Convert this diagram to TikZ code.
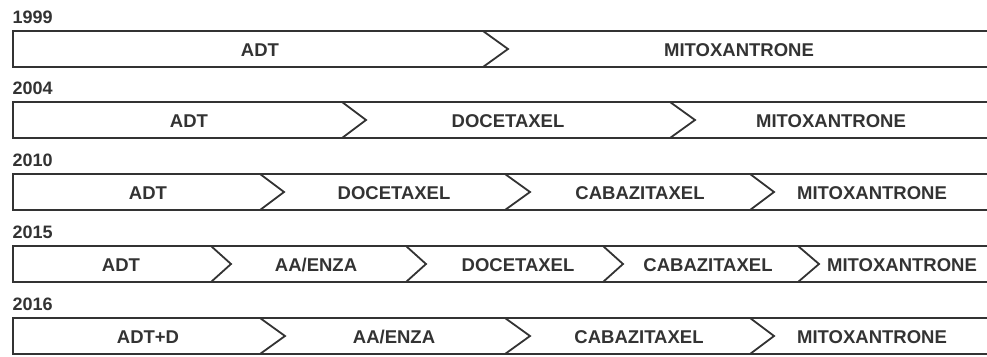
\documentclass[tikz,border=0pt]{standalone}
\usepackage{fontspec}
\setmainfont{Liberation Sans}
\definecolor{ink}{HTML}{333333}
\begin{document}
\begin{tikzpicture}[x=1pt,y=-1pt,
  band/.style={draw=ink,line width=1.8pt,line join=miter},
  chev/.style={draw=ink,line width=1.8pt,line join=miter},
  lbl/.style={text=ink,font=\fontsize{18.5}{20}\selectfont\bfseries,inner sep=0pt,anchor=center},
  yr/.style={text=ink,font=\fontsize{18}{20}\selectfont\bfseries,inner sep=0pt,anchor=west}]
\useasboundingbox (0,0) rectangle (987,356);
% rows: top y values
\foreach \t/\y [count=\i] in {31/1999,102/2004,174/2010,246/2015,318/2016}{
  \node[yr] (year\i) at (12.5,\t-14) {\y};
  \draw[band] (987,\t) -- (13,\t) -- (13,\t+36) -- (987,\t+36);
}
% chevrons: x/depth/top
\foreach \cx/\d/\t in {483/25/31,
  342/24/102, 670/25/102,
  260/24/174, 505/25/174, 750/24/174,
  211/20/246, 406/20/246, 603/20/246, 798/21/246,
  260/25/318, 505/25/318, 750/24/318}{
  \draw[chev] (\cx,\t) -- (\cx+\d,\t+18) -- (\cx,\t+36);
}
% row 1
\node[lbl] (r1a) at (260,50) {ADT};
\node[lbl] (r1b) at (739,50) {MITOXANTRONE};
% row 2
\node[lbl] (r2a) at (189,121) {ADT};
\node[lbl] (r2b) at (508,121) {DOCETAXEL};
\node[lbl] (r2c) at (831,121) {MITOXANTRONE};
% row 3
\node[lbl] (r3a) at (148,193) {ADT};
\node[lbl] (r3b) at (394,193) {DOCETAXEL};
\node[lbl] (r3c) at (640,193) {CABAZITAXEL};
\node[lbl] (r3d) at (872,193) {MITOXANTRONE};
% row 4
\node[lbl] (r4a) at (121,265) {ADT};
\node[lbl] (r4b) at (316,265) {AA/ENZA};
\node[lbl] (r4c) at (518,265) {DOCETAXEL};
\node[lbl] (r4d) at (708,265) {CABAZITAXEL};
\node[lbl] (r4e) at (902,265) {MITOXANTRONE};
% row 5
\node[lbl] (r5a) at (148,337) {ADT+D};
\node[lbl] (r5b) at (394,337) {AA/ENZA};
\node[lbl] (r5c) at (639,337) {CABAZITAXEL};
\node[lbl] (r5d) at (872,337) {MITOXANTRONE};
\end{tikzpicture}
\end{document}
